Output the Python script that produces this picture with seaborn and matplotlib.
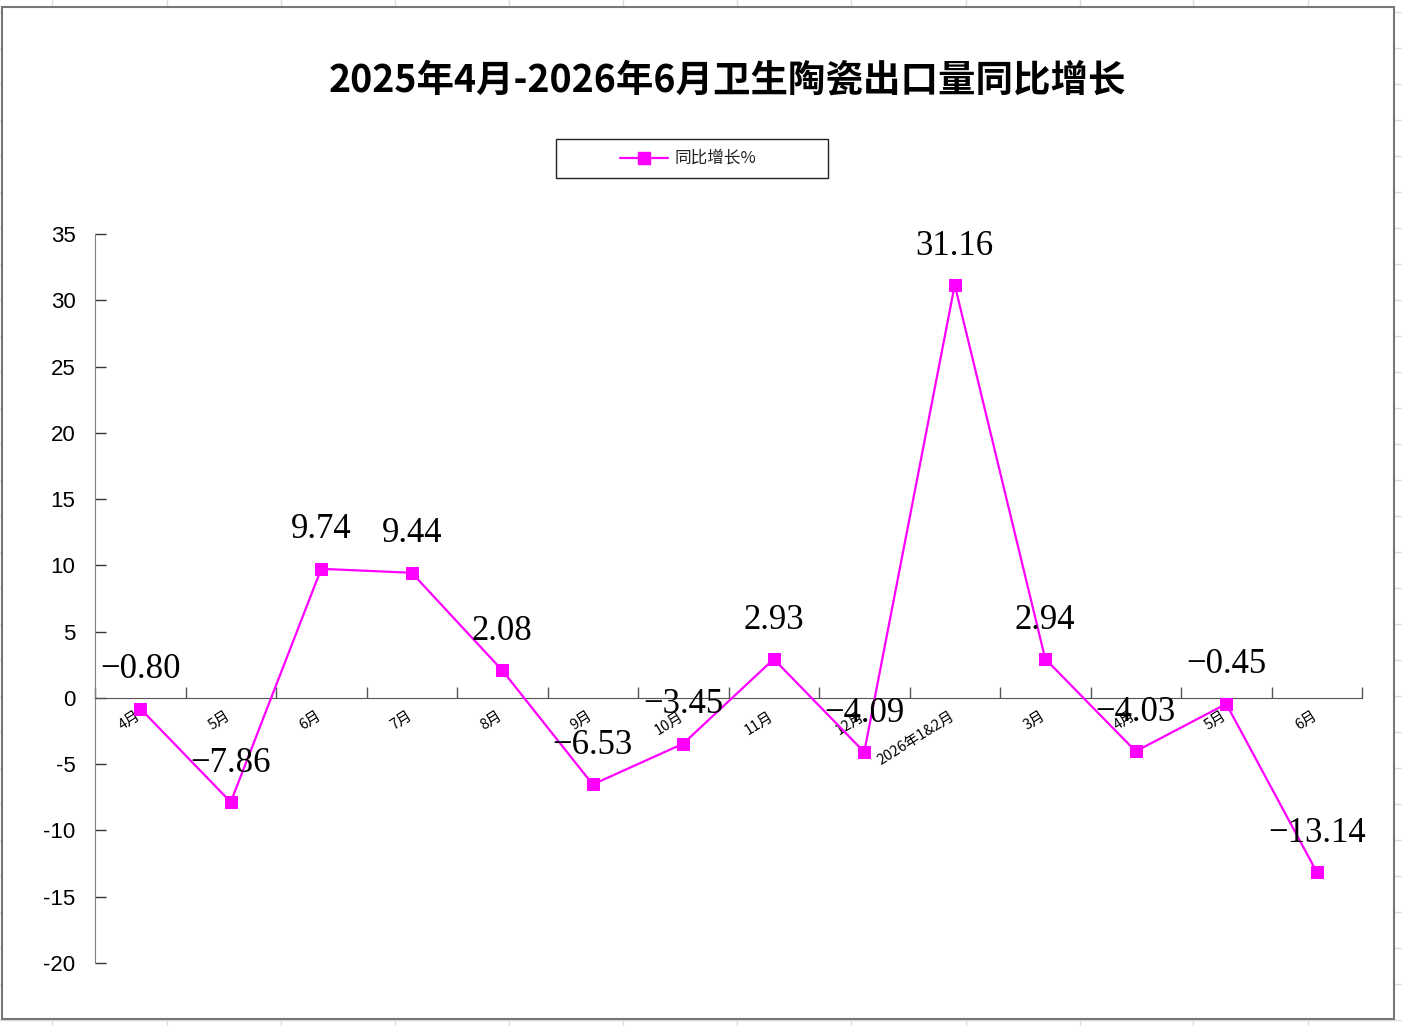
import numpy as np
import pandas as pd
import matplotlib.pyplot as plt
import matplotlib.transforms as mtransforms
import seaborn as sns
from matplotlib.lines import Line2D
from matplotlib.patches import Rectangle

# data
months = ['4月', '5月', '6月', '7月', '8月', '9月', '10月', '11月', '12月',
          '2026年1&2月', '3月', '4月', '5月', '6月']
yoy = [-0.80, -7.86, 9.74, 9.44, 2.08, -6.53, -3.45, 2.93, -4.09,
       31.16, 2.94, -4.03, -0.45, -13.14]
title = '2025年4月-2026年6月卫生陶瓷出口量同比增长'
series_name = '同比增长%'

sns.set_style('white')
plt.rcParams['font.family'] = ['Noto Sans CJK SC', 'DejaVu Sans']
plt.rcParams['axes.unicode_minus'] = False
plt.rcParams['text.color'] = 'black'
plt.rcParams['xtick.color'] = 'black'
plt.rcParams['ytick.color'] = 'black'

df = pd.DataFrame({'pos': np.arange(len(months)), 'val': yoy})

fig = plt.figure(figsize=(14.02, 10.26), dpi=100)

# spreadsheet grid behind the chart
for gx in [52, 167, 281, 395, 509, 623, 737, 851, 966, 1080, 1193, 1308]:
    fig.add_artist(Line2D([gx / 1402, gx / 1402], [0, 1], color='#dddddd', lw=1, zorder=-2))
for gy in range(12, 1026, 36):
    fig.add_artist(Line2D([0, 1], [1 - gy / 1026, 1 - gy / 1026], color='#dddddd', lw=1, zorder=-2))
fig.add_artist(Rectangle((2 / 1402, 1 - 1019 / 1026), 1392 / 1402, 1012 / 1026,
                         facecolor='white', edgecolor='#777777', lw=1.5, zorder=-1))

ax = fig.add_axes([95 / 1402, 1 - 963 / 1026, 1267 / 1402, 729 / 1026])
ax.set_facecolor('none')
ax.set_zorder(2)

sns.lineplot(data=df, x='pos', y='val', ax=ax, color='#FF00FF', lw=1.6,
             marker='s', markersize=9, markeredgecolor='#FF00FF',
             legend=False, zorder=3)

ax.set_xlim(-0.5, len(months) - 0.5)
ax.set_ylim(-20, 35)
ax.set_yticks(np.arange(-20, 36, 5))
ax.tick_params(axis='y', left=True, direction='in', length=8, width=1, color='#333333',
               pad=14, labelsize=16)
for t in ax.get_yticklabels():
    t.set_family('Liberation Sans')

ax.spines['top'].set_visible(False)
ax.spines['right'].set_visible(False)
ax.spines['left'].set_color('#808080')
ax.spines['bottom'].set_color('#555555')
ax.spines['bottom'].set_position(('data', 0))

# x axis: ticks at band boundaries, labels at category centres
ax.set_xticks(np.arange(len(months)))
ax.set_xticklabels(months, rotation=32, ha='right', rotation_mode='anchor', fontsize=10.5)
ax.set_xticks(np.arange(len(months) + 1) - 0.5, minor=True)
ax.tick_params(axis='x', which='major', bottom=True, length=0, pad=8)
ax.tick_params(axis='x', which='minor', bottom=True, direction='in', length=8,
               width=1, color='#555555')
shift = mtransforms.ScaledTranslation(-5 / 100, 0, fig.dpi_scale_trans)
for lab in ax.get_xticklabels():
    lab.set_transform(lab.get_transform() + shift)
ax.set_xlabel('')
ax.set_ylabel('')

for x, y in zip(df['pos'], df['val']):
    txt = f'{y:.2f}'.replace('-', '\u2212')
    ax.annotate(txt, (x, y), xytext=(0, 28), textcoords='offset points',
                ha='center', va='center', fontsize=25, family='Liberation Serif',
                color='black', zorder=4)

fig.text(727 / 1402, 1 - 80 / 1026, title, ha='center', va='center',
         fontsize=27, fontweight='bold', color='black')

# legend box
fig.add_artist(Rectangle((556 / 1402, 1 - 178 / 1026), 272 / 1402, 39 / 1026,
                         facecolor='white', edgecolor='#222222', lw=1, zorder=3))
fig.add_artist(Line2D([620 / 1402, 668 / 1402], [1 - 158 / 1026] * 2, color='#FF00FF',
                      lw=1.6, zorder=4))
fig.add_artist(Line2D([644 / 1402], [1 - 158 / 1026], color='#FF00FF', marker='s',
                      markersize=9, lw=0, zorder=4))
fig.text(675 / 1402, 1 - 158 / 1026, series_name, ha='left', va='center', fontsize=12,
         color='#222222', zorder=4)

fig.savefig('out.png', dpi=100)
